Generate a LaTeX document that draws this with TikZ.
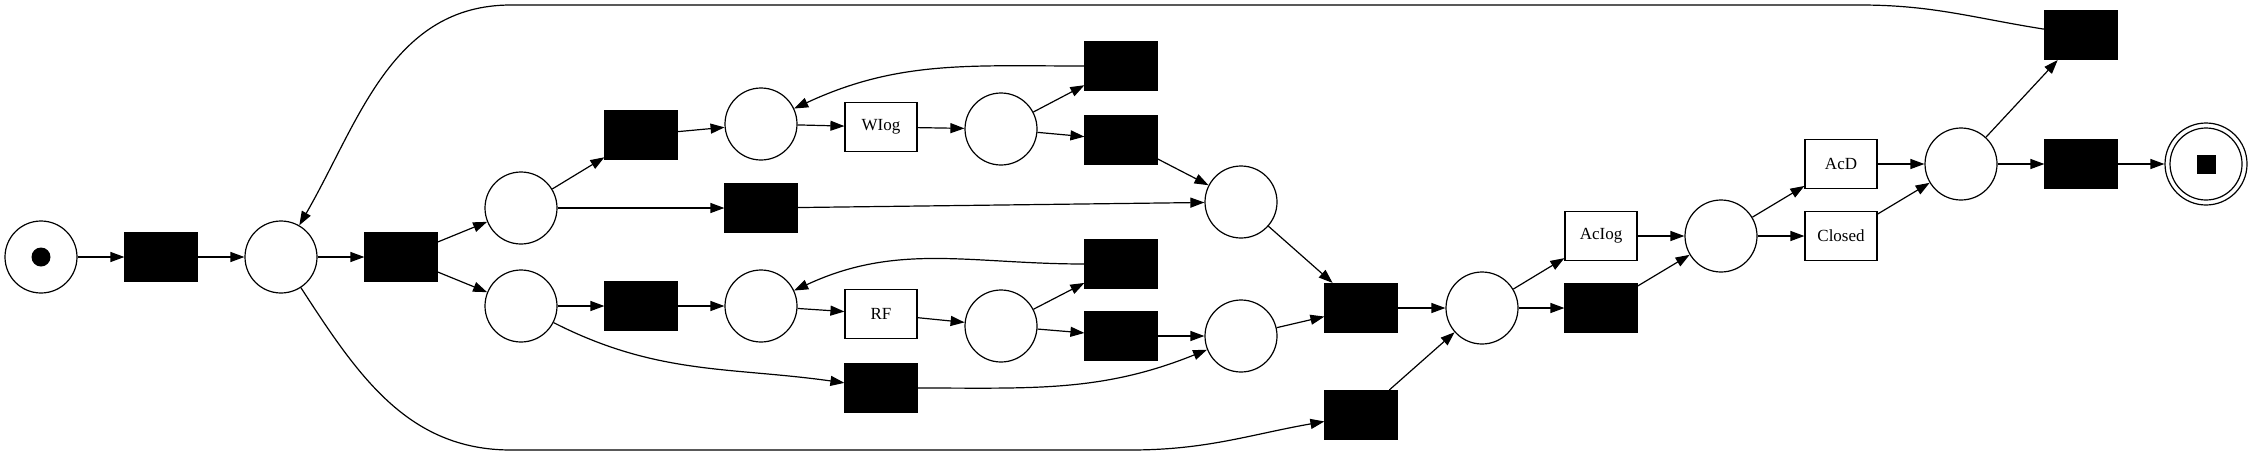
\documentclass[tikz,border=0pt]{standalone}
\usepackage{fontspec}
\setmainfont{Liberation Serif}
\usetikzlibrary{
  arrows.meta
}

\begin{document}
\begin{tikzpicture}[x=0.5pt,y=-0.5pt]
  \tikzset{
    place/.style = {circle, draw, line width=0.6pt, minimum size=36pt, inner sep=0pt},
    silent/.style = {draw, fill=black, line width=0.6pt, minimum width=36pt,
      minimum height=24.5pt, inner sep=0pt},
    task/.style = {draw, fill=white, line width=0.6pt, minimum width=36pt,
      minimum height=24.5pt, inner sep=0pt, font=\fontsize{8.5pt}{10pt}\selectfont},
    arc/.style = {line width=0.6pt, -{Triangle[length=7pt,width=5pt]}},
  }
  \useasboundingbox (0,0) rectangle (2253,456);

  % places
  \node[place] (src) at (41,257) {};
  \node[circle, fill=black, minimum size=9.5pt, inner sep=0pt] (token) at (src) {};
  \node[place] (p1) at (281,257) {};
  \node[place] (p2) at (521,208) {};
  \node[place] (p3) at (521,306) {};
  \node[place] (p4) at (761,124) {};
  \node[place] (p5) at (1001,129) {};
  \node[place] (p6) at (1241,202) {};
  \node[place] (p7) at (761,306) {};
  \node[place] (p8) at (1001,326) {};
  \node[place] (p9) at (1241,336) {};
  \node[place] (p10) at (1482,308) {};
  \node[place] (p11) at (1721,236) {};
  \node[place] (p12) at (1961,164) {};
  \node[place, minimum size=41pt] (sink) at (2206,164) {};
  \draw[line width=0.6pt] (sink) circle[radius=18pt];
  \node[fill=black, minimum size=9.5pt, inner sep=0pt] (sinkmark) at (sink) {};

  % silent transitions
  \foreach \n/\x/\y in {t1/161/257, t2/401/257, t3/641/135, t4/761/208,
    t5/641/306, t6/1121/66, t7/1121/140, t8/1121/264, t9/1121/336,
    t10/881/388, t11/1361/308, t12/1361/415, t13/1601/308,
    t14/2081/35, t15/2081/164}
  \node[silent] (\n) at (\x,\y) {};

  % labelled transitions
  \node[task] (wlog) at (881,127) {WIog};
  \node[task] (rf) at (881,314) {RF};
  \node[task] (aclog) at (1601,236) {AcIog};
  \node[task] (acd) at (1841,164) {AcD};
  \node[task] (closed) at (1841,236) {Closed};

  % straight arcs
  \foreach \a/\b in {src/t1, t1/p1, p1/t2, t2/p2, t2/p3, p2/t3, p2/t4,
    p3/t5, t3/p4, p4/wlog, wlog/p5, p5/t6, p5/t7, t7/p6, t4/p6,
    t5/p7, p7/rf, rf/p8, p8/t8, p8/t9, t9/p9, p6/t11, p9/t11,
    t11/p10, t12/p10, p10/aclog, p10/t13, aclog/p11, t13/p11,
    p11/acd, p11/closed, acd/p12, closed/p12, p12/t14, p12/t15,
    t15/sink}
  \draw[arc] (\a) -- (\b);

  % loops back
  \draw[arc] (t6) to[out=180,in=25] (p4);
  \draw[arc] (t8) to[out=180,in=25] (p7);

  % bypass arcs below
  \draw[arc] (p3) to[out=-27,in=172] (t10);
  \draw[arc] (t10) to[out=0,in=-158] (p9);

  % long way round, top and bottom
  \coordinate (topR) at (1860,5);
  \coordinate (topL) at (511,5);
  \coordinate (botL) at (511,450);
  \coordinate (botR) at (1130,450);
  \draw[arc] (t14) to[out=171,in=0] (topR) -- (topL) to[out=180,in=60] (p1);
  \draw[arc] (p1) to[out=-57,in=180] (botL) -- (botR) to[out=0,in=190] (t12);
\end{tikzpicture}
\end{document}
